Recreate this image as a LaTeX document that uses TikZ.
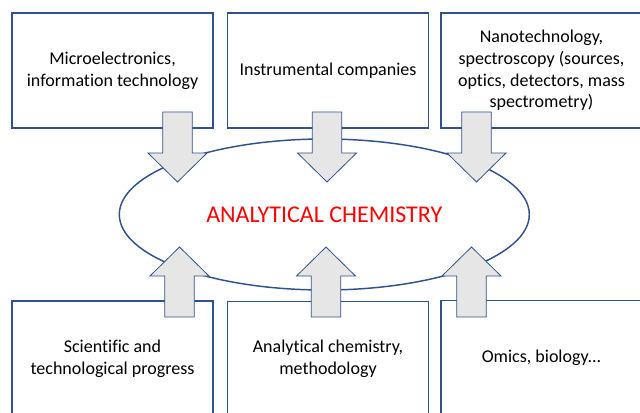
\documentclass[tikz,border=0pt]{standalone}
\usepackage{fontspec}
\setmainfont{Carlito}[Ligatures=NoCommon]
\usetikzlibrary{shapes.geometric}
\definecolor{boxblue}{HTML}{2F528F}
\definecolor{arrowgray}{HTML}{E7E6E6}
\definecolor{titlered}{HTML}{FF0000}
\tikzset{
  infobox/.style={draw=boxblue, line width=1.1pt, minimum width=150.75pt,
    minimum height=86.25pt, align=center, inner sep=0pt,
    font=\fontsize{13.5}{16.2}\selectfont},
  coreellipse/.style={ellipse, draw=boxblue, line width=1.1pt,
    minimum width=307.5pt, minimum height=113.25pt, inner sep=0pt,
    text=titlered, font=\fontsize{18}{21.6}\selectfont},
  blockarrow/.style={draw=boxblue, line width=0.6pt, fill=arrowgray, line join=miter}
}
\newcommand\downblock[2]{%
  \draw[blockarrow] (#1-14.75,#2) -- (#1+14.75,#2) -- (#1+14.75,#2+41)
    -- (#1+29.5,#2+41) -- (#1,#2+70) -- (#1-29.5,#2+41) -- (#1-14.75,#2+41) -- cycle;}
\newcommand\upblock[2]{%
  \draw[blockarrow] (#1,#2) -- (#1+29.5,#2+29) -- (#1+14.75,#2+29)
    -- (#1+14.75,#2+70) -- (#1-14.75,#2+70) -- (#1-14.75,#2+29) -- (#1-29.5,#2+29) -- cycle;}
\begin{document}
\begin{tikzpicture}[x=0.75pt,y=-0.75pt]
\useasboundingbox (0,0) rectangle (640,412);
\clip (0,0) rectangle (640,412);
% top boxes
\node[infobox] (micro) at (112.5,70.5) {Microelectronics,\\information technology};
\node[infobox] (instr) at (328,70.5) {Instrumental companies};
\node[infobox] (nano) at (541.5,70.5) {Nanotechnology,\\spectroscopy (sources,\\optics, detectors, mass\\spectrometry)};
% bottom boxes
\node[infobox] (sci) at (112.5,358.5) {Scientific and\\technological progress};
\node[infobox] (meth) at (328,359) {Analytical chemistry,\\methodology};
\node[infobox] (omics) at (541.5,358) {Omics, biology.{}.{}.};
% centre
\node[coreellipse] (chem) at (324.3,214.5) {ANALYTICAL CHEMISTRY};
% block arrows
\downblock{177.5}{112}
\downblock{327}{112}
\downblock{476.5}{112}
\upblock{179.5}{247}
\upblock{326}{247}
\upblock{471.5}{247}
\end{tikzpicture}
\end{document}
